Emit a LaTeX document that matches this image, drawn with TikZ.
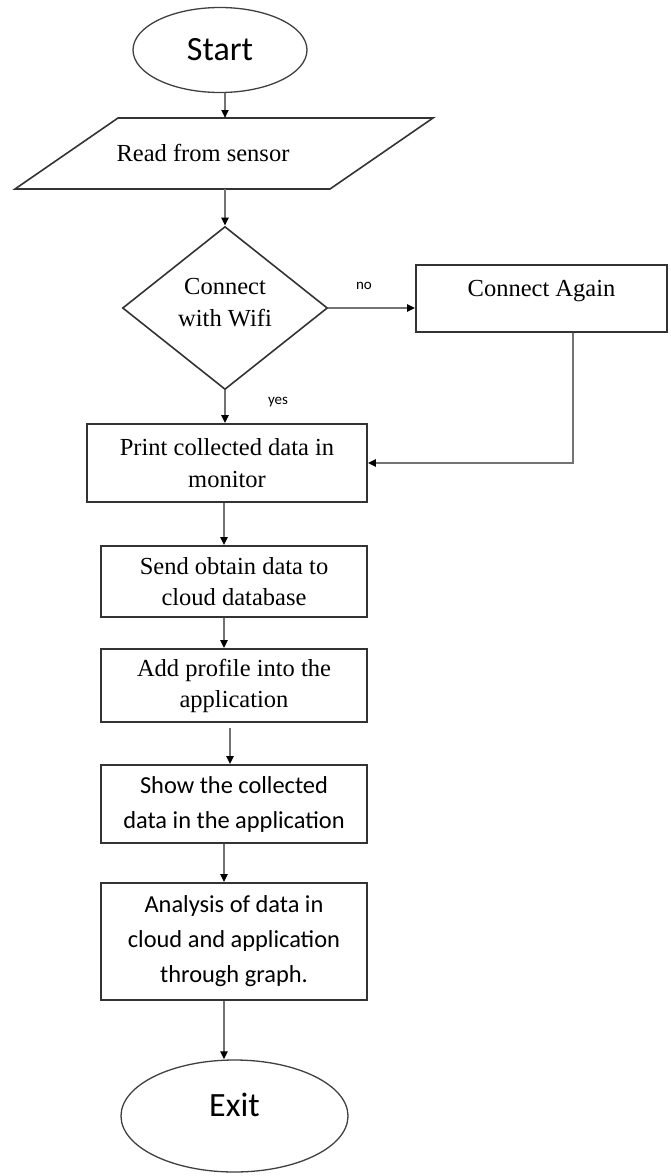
\documentclass[tikz,border=0pt]{standalone}
\usepackage{fontspec}
\setmainfont{Liberation Serif}
\newfontfamily\carl{Carlito}
\usetikzlibrary{shapes.geometric,arrows.meta}
\newcommand\sertxt{\fontsize{24.5}{32}\selectfont}
\newcommand\santxt{\carl\fontsize{24.4}{35}\selectfont}
\newcommand\bigtxt{\carl\fontsize{34}{40}\selectfont}
\newcommand\smalltxt{\carl\fontsize{15}{18}\selectfont}
\begin{document}
\begin{tikzpicture}[x=1pt,y=-1pt,
  outl/.style={draw=black!80, line width=1.6pt},
  box/.style={outl, rectangle, inner sep=0pt, align=center, font=\sertxt},
  sbox/.style={box, font=\santxt},
  oval/.style={ellipse, draw=black!75, line width=1.3pt, inner sep=0pt, font=\bigtxt},
  arr/.style={draw=black!55, line width=2pt, -{Triangle[length=8pt,width=7pt,color=black]}},
  lab/.style={inner sep=0pt, font=\smalltxt}]
\useasboundingbox[fill=white] (0,0) rectangle (670,1176);
% start
\node[oval, minimum width=174pt, minimum height=85pt] (start) at (220,50) {Start};
% input parallelogram
\draw[outl] (118,118) -- (433,118) -- (330,189) -- (15,189) -- cycle;
\node[inner sep=0pt, font=\sertxt] (read) at (203,153) {Read from sensor};
\coordinate (readtop) at (225,118);
\coordinate (readbot) at (225,189);
\draw[arr] (start.south -| readtop) -- (readtop);
% decision
\node[diamond, outl, aspect=1.26, minimum width=205pt, minimum height=163pt, inner sep=0pt, align=center, font=\sertxt] (dia) at (225,308) {Connect\\with Wifi\\[-20pt]\mbox{}};
\draw[arr] (readbot) -- (dia.north);
% connect again
\node[box, minimum width=251pt, minimum height=67pt, text height=16pt, text depth=21pt] (again) at (541.5,298.5) {Connect Again};
\draw[arr] (dia.east) -- (dia.east -| again.west);
\node[lab] (no) at (364,286) {no};
% print
\node[box, minimum width=280pt, minimum height=78pt] (print) at (227,463) {Print collected data in\\monitor};
\draw[arr] (dia.south) -- (dia.south |- print.north);
\node[lab] (yes) at (278,402) {yes};
\draw[arr] ([xshift=31.5pt]again.south) |- (print.east);
% send
\node[box, minimum width=266pt, minimum height=71pt, font={\fontsize{24.5}{31}\selectfont}] (send) at (234,581.5) {Send obtain data to\\cloud database};
\draw[arr] ([xshift=-3pt]print.south) -- ([xshift=-3pt]print.south |- send.north);
% add
\node[box, minimum width=266pt, minimum height=73pt, font={\fontsize{24.5}{31}\selectfont}] (add) at (234,685.5) {Add profile into the\\application};
\draw[arr] ([xshift=-10pt]send.south) -- ([xshift=-10pt]send.south |- add.north);
% show
\node[sbox, minimum width=266pt, minimum height=78pt] (show) at (234,804) {Show the collected\\data in the application};
\draw[arr, shorten <=5pt] ([xshift=-4pt]add.south) -- ([xshift=-4pt]add.south |- show.north);
% analysis
\node[sbox, minimum width=266pt, minimum height=117pt] (ana) at (234,941.5) {Analysis of data in\\cloud and application\\through graph.};
\draw[arr] ([xshift=-10pt]show.south) -- ([xshift=-10pt]show.south |- ana.north);
% exit
\node[oval, minimum width=227pt, minimum height=112pt, text height=22pt, text depth=22pt] (exit) at (234.5,1116) {Exit};
\draw[arr] ([xshift=-10pt]ana.south) -- ([xshift=-10pt]ana.south |- exit.north);
\end{tikzpicture}
\end{document}
